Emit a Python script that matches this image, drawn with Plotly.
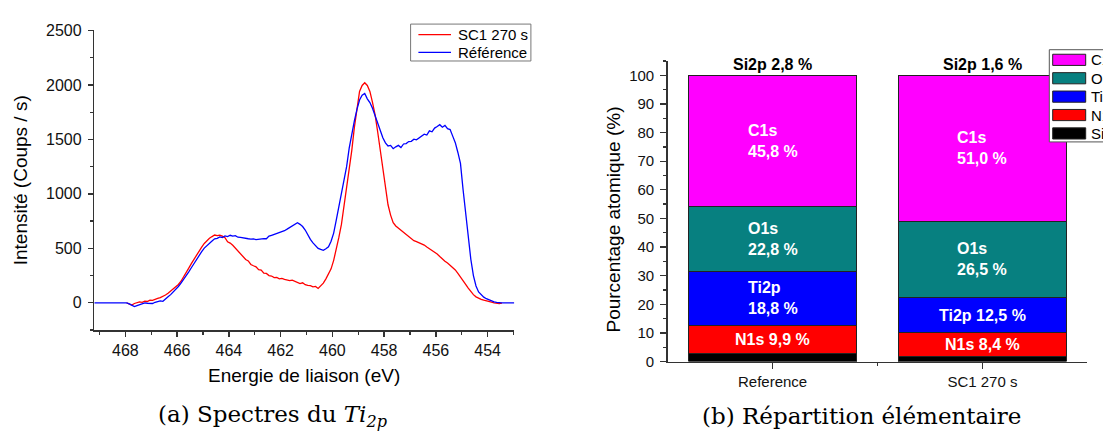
import plotly.graph_objects as go

W, H = 1103, 437

# ---------------- Data: Ti2p spectra ----------------
series_names = ["SC1 270 s", "Référence"]
series_colors = ["#FF0000", "#0000FF"]

energy = [
    467.95, 467.85, 467.75, 467.65, 467.55, 467.45, 467.35, 467.25, 467.15, 467.05,
    466.95, 466.85, 466.75, 466.65, 466.55, 466.45, 466.35, 466.25, 466.15, 466.05,
    465.95, 465.85, 465.75, 465.65, 465.55, 465.45, 465.35, 465.25, 465.15, 465.05,
    464.95, 464.85, 464.75, 464.65, 464.55, 464.45, 464.35, 464.25, 464.15, 464.05,
    463.95, 463.85, 463.75, 463.65, 463.55, 463.45, 463.35, 463.25, 463.15, 463.05,
    462.95, 462.85, 462.75, 462.65, 462.55, 462.45, 462.35, 462.25, 462.15, 462.05,
    461.95, 461.85, 461.75, 461.65, 461.55, 461.45, 461.35, 461.25, 461.15, 461.05,
    460.95, 460.85, 460.75, 460.65, 460.55, 460.45, 460.35, 460.25, 460.15, 460.05,
    459.95, 459.85, 459.75, 459.65, 459.55, 459.45, 459.35, 459.25, 459.15, 459.05,
    458.95, 458.85, 458.75, 458.65, 458.55, 458.45, 458.35, 458.25, 458.15, 458.05,
    457.95, 457.85, 457.75, 457.65, 457.55, 457.45, 457.35, 457.25, 457.15, 457.05,
    456.95, 456.85, 456.75, 456.65, 456.55, 456.45, 456.35, 456.25, 456.15, 456.05,
    455.95, 455.85, 455.75, 455.65, 455.55, 455.45, 455.35, 455.25, 455.15, 455.05,
    454.95, 454.85, 454.75, 454.65, 454.55, 454.45, 454.35, 454.25, 454.15, 454.05,
    453.95, 453.85, 453.75, 453.65, 453.55, 453.45,
]

intensity_sc1 = [
    0, -8, -20, -6, 0, 8, 5, 15, 12, 24,
    22, 34, 40, 48, 58, 72, 88, 108, 122, 148,
    168, 198, 235, 282, 318, 360, 398, 448, 478, 512,
    545, 572, 592, 608, 622, 616, 621, 612, 598, 560,
    548, 528, 500, 478, 446, 425, 398, 385, 352, 340,
    330, 305, 300, 272, 270, 250, 246, 232, 233, 220,
    225, 216, 213, 204, 209, 196, 190, 176, 184, 166,
    160, 158, 147, 150, 132, 158, 180, 220, 262, 312,
    390, 490, 600, 720, 880, 1040, 1210, 1400, 1610, 1790,
    1940, 1995, 2020, 1995, 1940, 1840, 1725, 1570, 1400, 1220,
    1040, 900, 805, 735, 705, 685, 665, 648, 630, 612,
    585, 570, 562, 552, 545, 530, 512, 498, 480, 462,
    448, 425, 400, 382, 365, 345, 325, 302, 270, 240,
    202, 170, 135, 100, 75, 55, 40, 32, 24, 20,
    10, 6, 0, -4, -8, -3,
]

energy_ref = [469.20] + energy + [452.97]
intensity_ref = [0,
    0, -10, -22, -35, -26, -15, -8, 0, -4, -2,
    -6, 5, 10, 18, 14, 38, 55, 75, 97, 128,
    150, 180, 212, 245, 285, 322, 362, 400, 440, 470,
    502, 525, 552, 568, 588, 592, 605, 600, 614, 608,
    620, 612, 616, 602, 600, 594, 592, 588, 585, 586,
    580, 584, 583, 590, 588, 612, 620, 628, 636, 645,
    652, 662, 676, 690, 702, 718, 735, 720, 700, 668,
    618, 582, 550, 520, 500, 490, 482, 496, 515, 565,
    640, 760, 880, 1000, 1120, 1250, 1420, 1560, 1670, 1775,
    1862, 1905, 1922, 1872, 1838, 1785, 1712, 1640, 1568, 1515,
    1468, 1440, 1445, 1415, 1432, 1445, 1425, 1458, 1462, 1480,
    1482, 1502, 1496, 1515, 1530, 1548, 1540, 1578, 1570, 1604,
    1618, 1635, 1612, 1628, 1598, 1590, 1530, 1470, 1380, 1280,
    1040, 820, 590, 400, 250, 155, 100, 72, 52, 38,
    26, 16, 8, 4, 1, 0,
    0]

energy_ticks = [468, 466, 464, 462, 460, 458, 456, 454]

# ---------------- Data: elemental composition ----------------
samples = ["Reference", "SC1 270 s"]
elements = ["Si2p", "N1s", "Ti2p", "O1s", "C1s"]          # stacking order (bottom -> top)
si2p = [2.8, 1.6]
n1s = [9.9, 8.4]
ti2p = [18.8, 12.5]
o1s = [22.8, 26.5]
c1s = [45.8, 51.0]
element_values = [si2p, n1s, ti2p, o1s, c1s]
element_colors = ["#000000", "#FF0000", "#0000FF", "#078080", "#FF00FF"]

FONT = "Liberation Sans"
AX = "#333333"

def px(x):
    return x / W

def py(y):
    return 1 - y / H

def fr(v):
    return f"{v:.1f}".replace(".", ",")

fig = go.Figure()

spectra = [(energy, intensity_sc1), (energy_ref, intensity_ref)]
for (xs, ys), name, col in zip(spectra, series_names, series_colors):
    fig.add_trace(go.Scatter(x=xs, y=ys, mode="lines", name=name, showlegend=False,
                             line=dict(color=col, width=1.3), xaxis="x", yaxis="y"))

xpos = list(range(len(samples)))
for name, vals, col in zip(elements, element_values, element_colors):
    fig.add_trace(go.Bar(x=xpos, y=vals, name=name, marker=dict(color=col, line=dict(color="#222", width=1)),
                         width=0.8, xaxis="x2", yaxis="y2", showlegend=False))

annotations = []
# labels inside bars
for i in range(len(samples)):
    base = 0.0
    for name, vals in zip(elements, element_values):
        v = vals[i]
        if name != "Si2p":
            txt = f"<b>{name}<br>{fr(v)} %</b>" if v > 15 else f"<b>{name} {fr(v)} %</b>"
            annotations.append(dict(x=xpos[i], y=base + v / 2, xref="x2", yref="y2", text=txt,
                                    showarrow=False, align="left", xanchor="center", yanchor="middle",
                                    font=dict(family=FONT, size=16, color="white")))
        base += v
    annotations.append(dict(x=xpos[i], y=base, xref="x2", yref="y2",
                            text=f"<b>Si2p {fr(si2p[i])} %</b>", showarrow=False,
                            xanchor="center", yanchor="bottom",
                            font=dict(family=FONT, size=16, color="black")))

def paper_text(x, y, text, size, family=FONT, angle=0, xanchor="center"):
    return dict(x=px(x), y=py(y), xref="paper", yref="paper", text=text, textangle=angle,
                showarrow=False, xanchor=xanchor, yanchor="middle",
                font=dict(family=family, size=size, color="black"))

# axis titles
annotations.append(paper_text(21.3, 178.5, "Intensité (Coups / s)", 19, angle=-90))
annotations.append(paper_text(304.3, 381, "Energie de liaison (eV)", 19))
annotations.append(paper_text(613.6, 220, "Pourcentage atomique (%)", 19, angle=-90))
# captions
annotations.append(paper_text(272, 423, "(a) Spectres du <i>Ti</i><sub><i>2p</i></sub>", 23, family="DejaVu Serif"))
annotations.append(paper_text(861, 423, "(b) Répartition élémentaire", 23, family="DejaVu Serif"))

shapes = []
# legend of the spectra (drawn like the Origin legend)
shapes.append(dict(type="rect", xref="paper", yref="paper", x0=px(410.6), x1=px(530.9),
                   y0=py(55), y1=py(16.7), line=dict(color="#777", width=1), fillcolor="white", layer="above"))
for k, (name, col) in enumerate(zip(series_names, series_colors)):
    yc = 27.7 + 18.3 * k
    shapes.append(dict(type="line", xref="paper", yref="paper", x0=px(418.4), x1=px(451),
                       y0=py(yc), y1=py(yc), line=dict(color=col, width=1.3), layer="above"))
    annotations.append(paper_text(455.7, yc, name, 15, xanchor="left"))

# legend of the bar chart (clipped at the right border like the original)
shapes.append(dict(type="rect", xref="paper", yref="paper", x0=px(1049.3), x1=px(1115), y0=py(139), y1=py(43.3),
                   line=dict(color="#555", width=1), fillcolor="white", layer="above"))
for k, (name, col) in enumerate(zip(elements[::-1], element_colors[::-1])):
    yc = 53.8 + 19.1 * k
    shapes.append(dict(type="rect", xref="paper", yref="paper", x0=px(1052.7), x1=px(1085.7),
                       y0=py(yc + 5.8), y1=py(yc - 5.8), line=dict(color="#222", width=1),
                       fillcolor=col, layer="above"))
    annotations.append(paper_text(1089, yc, name, 15, xanchor="left"))

def axis_style(size):
    return dict(showline=True, linecolor=AX, linewidth=1.5, ticks="outside", tickcolor=AX,
                tickwidth=1.3, showgrid=False, zeroline=False,
                tickfont=dict(family=FONT, size=size, color="#111"))

fig.update_layout(
    width=W, height=H, autosize=False,
    margin=dict(l=0, r=0, t=0, b=0),
    paper_bgcolor="white", plot_bgcolor="white",
    barmode="stack", showlegend=False,
    font=dict(family=FONT, color="black"),
    xaxis=dict(domain=[px(94.3), px(514.3)], range=[469.2, 452.97], anchor="y",
               tickmode="array", tickvals=energy_ticks, ticklen=5,
               minor=dict(dtick=1, tick0=453, ticklen=3, ticks="outside", tickcolor=AX), **axis_style(16)),
    yaxis=dict(domain=[py(334.3), py(23.3)], range=[-250, 2500], anchor="x",
               tick0=0, dtick=500, ticklen=5, ticklabelstandoff=3,
               minor=dict(dtick=250, ticklen=3, ticks="outside", tickcolor=AX), **axis_style(16)),
    xaxis2=dict(domain=[px(667.7), px(1087.3)], range=[-0.5, 1.5], anchor="y2",
                tickmode="array", tickvals=xpos, ticktext=samples, ticklen=6,
                minor=dict(tickmode="array", tickvals=[0.5], ticklen=3, ticks="outside", tickcolor=AX),
                **axis_style(15)),
    yaxis2=dict(domain=[py(367), py(55)], range=[0, 105], anchor="x2",
                tick0=0, dtick=10, ticklen=6, ticklabelstandoff=3,
                minor=dict(dtick=5, ticklen=3, ticks="outside", tickcolor=AX), **axis_style(15)),
    annotations=annotations,
    shapes=shapes,
)

fig.write_html("out.html", config={"displayModeBar": False, "staticPlot": True},
               post_script="document.body.style.margin='0';document.body.style.padding='0';"
                           "document.body.style.overflow='hidden';")
